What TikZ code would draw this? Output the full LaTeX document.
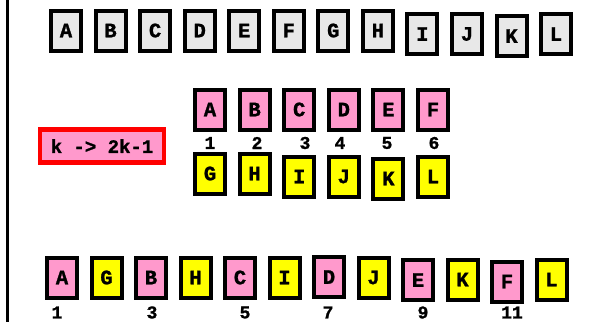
\documentclass[tikz,border=0pt]{standalone}
\usepackage{fontspec}
\newfontfamily\cour{Liberation Mono}[BoldFeatures={FakeBold=1.2}]
\definecolor{boxgray}{HTML}{E8E8E8}
\definecolor{boxpink}{HTML}{FF99CC}
\definecolor{boxyellow}{HTML}{FFFF00}
\definecolor{boxred}{HTML}{FF0000}
\tikzset{
  letterbox/.style={draw=black, line width=4pt, minimum width=30pt, minimum height=40pt,
    inner sep=0pt, font=\cour\bfseries\fontsize{20.5}{20.5}\selectfont},
  gbox/.style={letterbox, fill=boxgray},
  pbox/.style={letterbox, fill=boxpink},
  ybox/.style={letterbox, fill=boxyellow},
  numlabel/.style={inner sep=0pt, font=\cour\bfseries\fontsize{18}{18}\selectfont},
  rulebox/.style={draw=boxred, line width=4.5pt, fill=boxpink, minimum width=124pt,
    minimum height=33pt, inner sep=0pt, font=\cour\bfseries\fontsize{19}{19}\selectfont}
}
\begin{document}
\begin{tikzpicture}[x=1pt, y=-1pt]
\useasboundingbox (0,0) rectangle (591,322);
\coordinate (lt) at (7.5,0);
\coordinate (lb) at (7.5,322);
\draw[line width=2.5pt] (lt) -- (lb);
% top row
\foreach \l/\x/\y in {A/66/30.5, B/110.5/30.5, C/155.1/30.5, D/199.7/30.5, E/244.2/30.5,
  F/288.8/30.5, G/333.3/30.5, H/377.9/30.5, I/422.4/34, J/467/34, K/511.5/36, L/556/34}
  \node[gbox] (t\l) at (\x,\y) {\l};
% rule
\node[rulebox] (rule) at (102,146) {k -> 2k-1};
% middle pink
\foreach \l/\x in {A/210, B/254.6, C/299.2, D/343.8, E/388.4, F/433}
  \node[pbox] (m\l) at (\x,109.5) {\l};
% middle numbers
\foreach \n/\x in {1/210, 2/257, 3/305, 4/340, 5/387, 6/434}
  \node[numlabel] (mn\n) at (\x,143) {\n};
% middle yellow
\foreach \l/\x/\y in {G/210/173.5, H/254.6/173.5, I/299.2/176.5, J/343.8/176.5,
  K/388.4/178.5, L/433/176.5}
  \node[ybox] (m\l) at (\x,\y) {\l};
% bottom row
\foreach \l/\x/\y in {A/62/277.5, B/151/277.5, C/240/277.5, D/329/277, E/418/280, F/507/281.5}
  \node[pbox] (b\l) at (\x,\y) {\l};
\foreach \l/\x/\y in {G/106.5/277.5, H/195.5/277.5, I/284.5/277.5, J/373.5/277.5,
  K/462.5/279.5, L/551.5/279.5}
  \node[ybox] (b\l) at (\x,\y) {\l};
% bottom numbers
\foreach \n/\x in {1/57, 3/152, 5/245, 7/328, 9/423, 11/512}
  \node[numlabel] (bn\n) at (\x,312.5) {\n};
\end{tikzpicture}
\end{document}
